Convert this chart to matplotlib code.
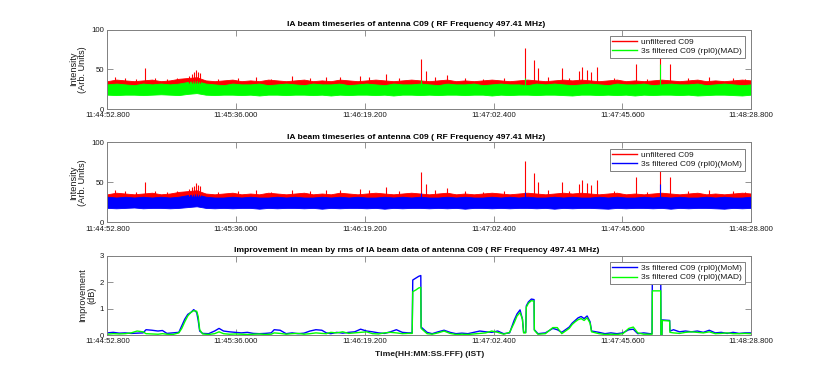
import numpy as np
import matplotlib
matplotlib.use('Agg')
import matplotlib.pyplot as plt

plt.rcParams['font.family'] = ['Liberation Sans', 'DejaVu Sans']

# ---------------- data ----------------
xtick_seconds = [0, 43.2, 86.4, 129.6, 172.8, 216.0]
xtick_labels = ['11:44:52.800', '11:45:36.000', '11:46:19.200',
                '11:47:02.400', '11:47:45.600', '11:48:28.800']

# envelope of the dense timeseries, sampled every 3 s (0 .. 216 s)
band_t = np.arange(0, 217, 3)
red_top = [35, 37, 36, 35, 36, 37, 35, 36, 38, 39, 40, 36, 35, 36, 37, 35, 36, 35, 37, 36,
           35, 36, 37, 35, 36, 35, 37, 36, 35, 36, 37, 36, 35, 36, 37, 36, 35, 36, 37, 35,
           36, 35, 36, 37, 36, 35, 36, 37, 36, 35, 36, 37, 36, 37, 36, 35, 36, 37, 35, 36,
           35, 36, 37, 36, 35, 36, 37, 35, 36, 35, 36, 37, 36]
red_floor = 24
green_top = [31, 32, 31, 30, 32, 31, 32, 31, 32, 34, 35, 32, 31, 30, 32, 31, 31, 32, 30, 31,
             32, 31, 30, 32, 31, 31, 32, 30, 31, 32, 31, 30, 32, 31, 31, 32, 31, 30, 32, 31,
             31, 32, 30, 31, 32, 31, 31, 30, 32, 31, 32, 31, 30, 31, 32, 31, 30, 32, 31, 31,
             32, 30, 31, 32, 31, 31, 32, 30, 31, 32, 31, 30, 31]
green_bot = [18, 17.5, 18, 18, 17.5, 18, 18.5, 18, 17.5, 19, 20, 18, 17.5, 18, 18, 17.5, 18, 17, 18, 18,
             17.5, 18, 18, 17.5, 18, 17, 18, 17.5, 18, 18, 17.5, 18, 17, 18, 18, 17.5, 18, 17.5, 18, 18,
             17.5, 18, 18, 17, 18, 17.5, 18, 18, 17.5, 18, 18, 17.5, 17, 18, 18, 17.5, 18, 17.5, 18, 17,
             18, 17.5, 18, 18, 17.5, 18, 17, 17.5, 18, 18, 17.5, 17, 18]
blue_top = [32, 31, 32, 31, 32, 31, 32, 31, 32, 34, 35, 32, 31, 31, 32, 31, 32, 31, 31, 32,
            31, 32, 31, 31, 32, 31, 32, 31, 32, 31, 31, 32, 31, 32, 31, 32, 31, 31, 32, 31,
            32, 31, 31, 32, 31, 32, 31, 32, 31, 31, 32, 31, 32, 31, 31, 32, 31, 32, 31, 31,
            32, 31, 32, 31, 32, 31, 31, 32, 31, 32, 31, 31, 32]
blue_bot = [18, 17.5, 18, 18.5, 17.5, 18, 18, 17.5, 18, 19, 20, 18, 17.5, 18, 17.5, 18, 18, 17, 18, 17.5,
            18, 18, 17.5, 18, 17, 18, 17.5, 18, 18, 17.5, 18, 17, 18, 17.5, 18, 18, 17.5, 18, 17.5, 18,
            17, 18, 18, 17.5, 18, 17.5, 18, 18, 17.5, 18, 17, 18, 17.5, 18, 18, 17.5, 17, 18, 17.5, 18,
            18, 17.5, 18, 17, 18, 17.5, 18, 18, 17.5, 17, 18, 17.5, 18]

# impulsive RFI spikes on the unfiltered series (time s, peak)
red_spike_t = [2.6, 6, 9.5, 12.6, 16, 20, 23.5, 27.5, 28.3, 29.0, 29.6, 30.4, 31.2, 37, 44, 50, 55,
               61.9, 68, 73.3, 78, 84.8, 87.8, 93.4, 98, 105.3, 106.8, 110, 113.9, 120,
               126, 133, 140.2, 143.3, 144.4, 148, 152.5, 155, 158.3, 159.2, 160.9, 162.3,
               164.2, 170, 177.3, 181, 185.5, 188.8, 195, 202, 210, 214]
red_spike_v = [40, 39, 38, 51, 39, 38, 39, 42, 44, 46, 49, 47, 45, 38, 39, 40, 38,
               41, 39, 40, 40, 42, 40, 44, 39, 63, 48, 40, 43, 39,
               38, 39, 77, 62, 51, 40, 51, 39, 48, 53, 49, 47,
               53, 39, 57, 38, 64, 57, 39, 40, 39, 38]
green_spike_t = [105.3, 140.2, 185.5]
green_spike_v = [36, 39, 57]
blue_spike_t = [105.3, 140.2, 185.5]
blue_spike_v = [37, 38, 48]

# improvement curves (dB)
imp_t = [0, 2, 4, 6, 8, 10, 12, 13, 15, 17, 18.5, 20, 22, 24, 25, 26, 27, 28, 29, 30, 30.5,
         31, 32, 34, 36, 37.5, 39, 41, 43, 45, 47, 49, 51, 53, 55, 56, 58, 60, 62, 64, 66,
         68, 70, 72, 73.5, 75, 77, 79, 81, 83, 85, 87, 89, 91, 93, 95, 97, 99, 101, 102.3, 102.5,
         103.5, 104.5, 105.2, 105.3, 107.3, 109, 111, 113, 115, 117, 119, 121, 123, 125, 127, 129,
         131, 133, 135, 136.5, 137.5, 138.5, 139.3, 139.7, 140.4, 140.6, 141.3, 142.3, 143.2, 143.3,
         144.5, 147, 149.5, 151, 152.5, 155, 156, 157, 158, 159, 160, 161, 162, 162.5, 165, 167, 169,
         171, 173, 175, 176.5, 178, 180, 182, 182.8, 182.9, 185.7, 185.8, 186.1, 186.2, 188.7,
         188.8, 190, 192, 194, 196, 198, 200, 202, 204, 206, 208, 210, 212, 214, 216]
imp_mom = [0.08, 0.10, 0.07, 0.08, 0.06, 0.07, 0.08, 0.20, 0.18, 0.15, 0.17, 0.06, 0.08, 0.10,
           0.35, 0.60, 0.78, 0.85, 0.96, 0.85, 0.55, 0.15, 0.06, 0.05, 0.15, 0.25, 0.15, 0.12,
           0.10, 0.08, 0.10, 0.06, 0.05, 0.06, 0.08, 0.20, 0.18, 0.05, 0.08, 0.05, 0.07, 0.15,
           0.20, 0.18, 0.08, 0.05, 0.10, 0.07, 0.10, 0.12, 0.22, 0.15, 0.12, 0.08, 0.06, 0.12,
           0.20, 0.10, 0.08, 0.08, 2.08, 2.15, 2.22, 2.25, 0.30, 0.10, 0.05, 0.12, 0.18, 0.10, 0.05,
           0.07, 0.05, 0.10, 0.15, 0.12, 0.10, 0.15, 0.05, 0.08, 0.55, 0.80, 0.95, 0.60, 0.10, 0.10,
           1.10, 1.25, 1.36, 1.34, 0.20, 0.05, 0.08, 0.25, 0.20, 0.10, 0.30, 0.45, 0.55, 0.65, 0.70,
           0.62, 0.72, 0.50, 0.15, 0.10, 0.05, 0.08, 0.05, 0.08, 0.20, 0.22, 0.05, 0.08, 0.05, 0.05,
           2.50, 2.55, 0.00, 0.00, 0.57, 0.55, 0.15, 0.20, 0.12, 0.15, 0.12, 0.15, 0.10, 0.18, 0.08,
           0.10, 0.06, 0.10, 0.06, 0.08, 0.08]
imp_mad = [0.03, 0.05, 0.04, 0.05, 0.08, 0.15, 0.12, 0.05, 0.04, 0.03, 0.05, 0.03, 0.02, 0.08,
           0.25, 0.50, 0.72, 0.85, 0.92, 0.90, 0.70, 0.20, 0.04, 0.02, 0.05, 0.12, 0.05, 0.03,
           0.04, 0.03, 0.02, 0.03, 0.04, 0.02, 0.03, 0.08, 0.06, 0.03, 0.05, 0.06, 0.03, 0.05,
           0.08, 0.06, 0.05, 0.10, 0.08, 0.12, 0.06, 0.08, 0.10, 0.12, 0.05, 0.04, 0.08, 0.10,
           0.08, 0.05, 0.06, 0.06, 1.64, 1.70, 1.78, 1.80, 0.25, 0.05, 0.03, 0.08, 0.15, 0.06, 0.02,
           0.03, 0.02, 0.04, 0.06, 0.08, 0.15, 0.10, 0.03, 0.10, 0.45, 0.72, 0.85, 0.60, 0.08, 0.08,
           1.05, 1.20, 1.30, 1.28, 0.18, 0.03, 0.05, 0.28, 0.28, 0.05, 0.25, 0.40, 0.50, 0.58, 0.62,
           0.55, 0.65, 0.45, 0.12, 0.05, 0.02, 0.03, 0.02, 0.05, 0.25, 0.30, 0.08, 0.03, 0.03, 0.03,
           1.67, 1.67, 0.00, 0.00, 0.55, 0.53, 0.10, 0.08, 0.06, 0.10, 0.12, 0.10, 0.08, 0.12, 0.05,
           0.06, 0.08, 0.05, 0.05, 0.06, 0.05]

titles = ['IA beam timeseries of antenna C09 ( RF Frequency 497.41 MHz)',
          'IA beam timeseries of antenna C09 ( RF Frequency 497.41 MHz)',
          'Improvement in mean by rms of IA beam data of antenna C09 ( RF Frequency 497.41 MHz)']

# ---------------- style ----------------
RED, GREEN, BLUE = '#ff0000', '#00ff00', '#0000ff'
AXC = '#808080'
TXT = '#1a1a1a'
FS_TICK = 5.6
FS_LEG = 6.0
FS_YLAB = 6.6
FS_TITLE = 6.1

W, H = 830, 377
fig = plt.figure(figsize=(W / 100, H / 100), dpi=100)
fig.patch.set_facecolor('white')


def make_ax(top_px, bot_px):
    left, right = 107.3, 751.0
    return fig.add_axes([left / W, 1 - bot_px / H, (right - left) / W, (bot_px - top_px) / H])


def style(ax, ymax, yticks, title, ylabel):
    ax.set_xlim(0, 216)
    ax.set_ylim(0, ymax)
    ax.set_xticks(xtick_seconds)
    ax.set_xticklabels(xtick_labels)
    ax.set_yticks(yticks)
    ax.tick_params(direction='in', length=4.3, width=0.6, color=AXC, labelcolor=TXT,
                   labelsize=FS_TICK, top=True, right=True, pad=2.5)
    for s in ax.spines.values():
        s.set_color(AXC)
        s.set_linewidth(0.7)
    ax.set_title(title, fontsize=FS_TITLE, fontweight='bold', color='black', pad=2.5, x=0.48)
    ax.set_ylabel(ylabel, fontsize=FS_YLAB, color=TXT, labelpad=2.5, linespacing=1.0)


def legend(ax):
    leg = ax.legend(loc='upper right', bbox_to_anchor=(0.99, 0.92), fontsize=FS_LEG,
                    frameon=True, fancybox=False, edgecolor=AXC, framealpha=1,
                    handlelength=3.0, handletextpad=0.5, borderpad=0.3,
                    labelspacing=0.15, borderaxespad=0)
    leg.get_frame().set_linewidth(0.7)
    for t in leg.get_texts():
        t.set_color(TXT)


# ----- panel 1 -----
ax1 = make_ax(29.5, 109.0)
ax1.fill_between(band_t, red_floor, red_top, color=RED, lw=0.6, edgecolor=RED)
ax1.vlines(red_spike_t, 33, red_spike_v, color=RED, lw=0.8)
ax1.plot([], [], color=RED, lw=1, label='unfiltered C09')
ax1.fill_between(band_t, green_bot, green_top, color=GREEN, lw=0.6, edgecolor=GREEN)
ax1.vlines(green_spike_t, 30, green_spike_v, color=GREEN, lw=0.8)
ax1.plot([], [], color=GREEN, lw=1, label='3s filtered C09 (rpl0)(MAD)')
style(ax1, 100, [0, 50, 100], titles[0], 'Intensity\n(Arb. Units)')
legend(ax1)

# ----- panel 2 -----
ax2 = make_ax(142.3, 222.3)
ax2.fill_between(band_t, red_floor, red_top, color=RED, lw=0.6, edgecolor=RED)
ax2.vlines(red_spike_t, 33, red_spike_v, color=RED, lw=0.8)
ax2.plot([], [], color=RED, lw=1, label='unfiltered C09')
ax2.fill_between(band_t, blue_bot, blue_top, color=BLUE, lw=0.6, edgecolor=BLUE)
ax2.vlines(blue_spike_t, 30, blue_spike_v, color=BLUE, lw=0.8)
ax2.plot([], [], color=BLUE, lw=1, label='3s filtered C09 (rpl0)(MoM)')
style(ax2, 100, [0, 50, 100], titles[1], 'Intensity\n(Arb. Units)')
legend(ax2)

# ----- panel 3 -----
ax3 = make_ax(255.7, 335.0)
ax3.plot(imp_t, imp_mom, color=BLUE, lw=1.0, label='3s filtered C09 (rpl0)(MoM)')
ax3.plot(imp_t, imp_mad, color=GREEN, lw=1.0, label='3s filtered C09 (rpl0)(MAD)')
style(ax3, 3, [0, 1, 2, 3], titles[2], 'Improvement\n(dB)')
ax3.set_xlabel('Time(HH:MM:SS.FFF) (IST)', fontsize=FS_TITLE, fontweight='bold',
               color=TXT, labelpad=4)
legend(ax3)

fig.savefig('out.png', dpi=100, facecolor='white')
